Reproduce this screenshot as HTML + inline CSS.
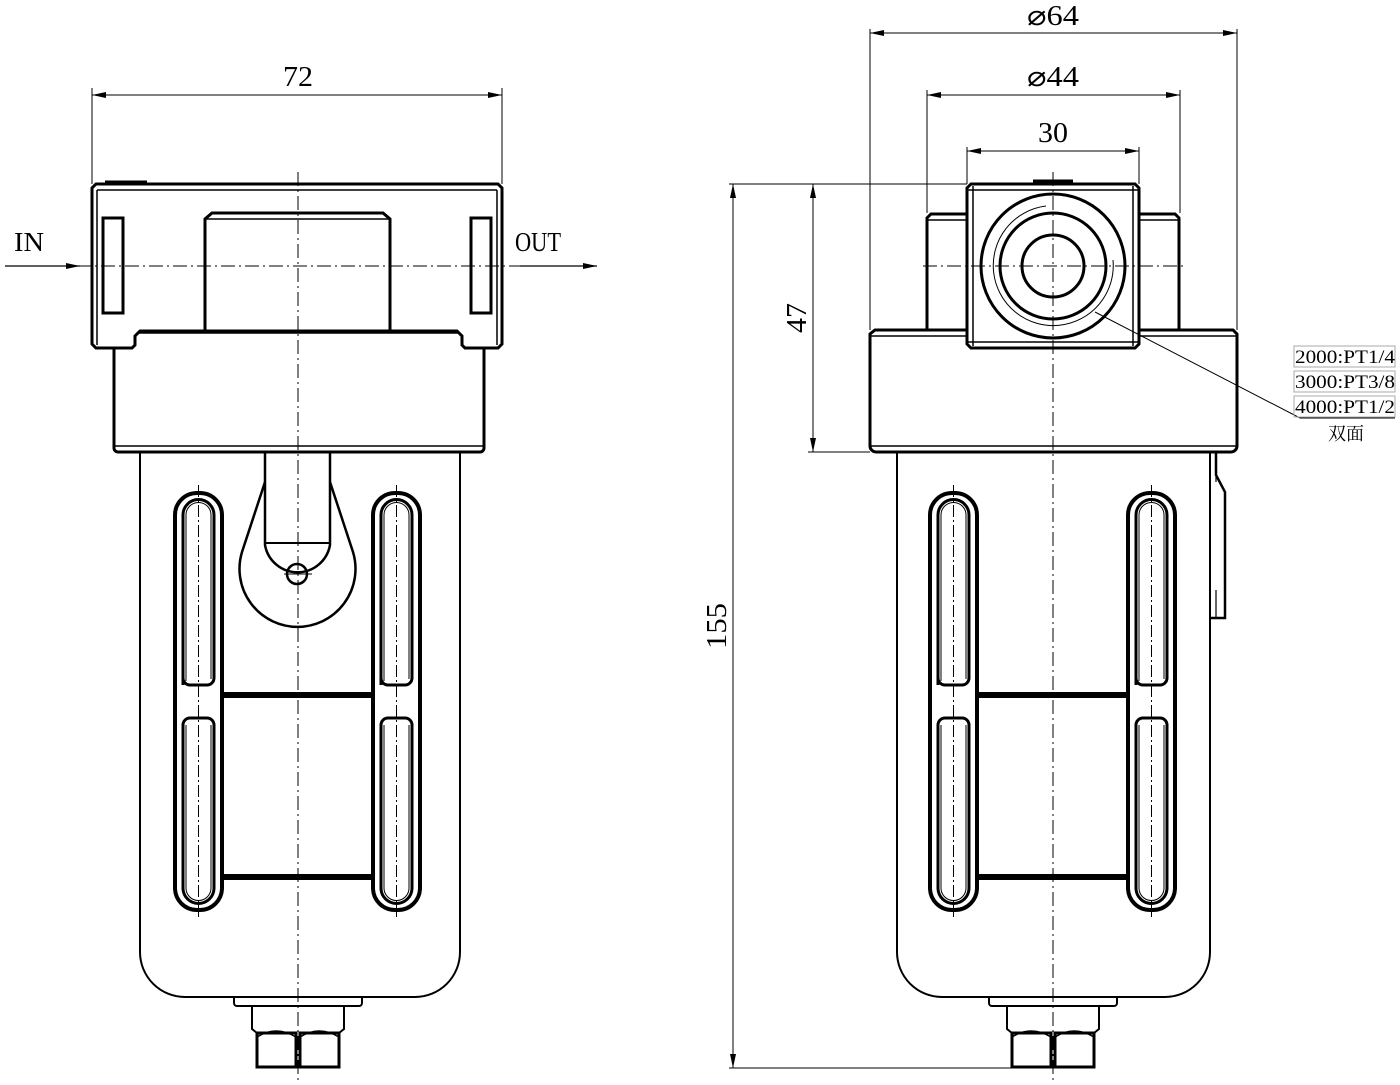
<!DOCTYPE html>
<html><head><meta charset="utf-8"><style>
html,body{margin:0;padding:0;background:#fff;}
svg{display:block;}
.t{font-family:"Liberation Serif","Noto Serif CJK SC",serif;fill:#000;}
</style></head><body>
<svg width="1400" height="1085" viewBox="0 0 1400 1085" xmlns="http://www.w3.org/2000/svg">
<defs>
<marker id="a" markerWidth="14" markerHeight="6" refX="14" refY="3" orient="auto-start-reverse" markerUnits="userSpaceOnUse"><path d="M0,0 L14,3 L0,6 Z" fill="#000"/></marker>
<g id="slot" fill="none" stroke="#000">
  <rect x="0" y="0" width="47" height="417" rx="22" stroke-width="4"/>
  <path d="M8,192 V22 a15.5,15.5 0 0 1 31,0 V185 a7,7 0 0 1 -7,7 H15 a7,7 0 0 1 -7,-7Z" stroke-width="3"/>
  <path d="M11,188 V22 a12.5,12.5 0 0 1 25,0 V186" stroke-width="1"/>
  <path d="M8,232 a7,7 0 0 1 7,-7 H32 a7,7 0 0 1 7,7 V395 a15.5,15.5 0 0 1 -31,0 Z" stroke-width="3"/>
  <path d="M11,232 V395 a12.5,12.5 0 0 0 25,0 V232" stroke-width="1"/>
  <line x1="23.5" y1="-8" x2="23.5" y2="425" stroke-width="1" stroke-dasharray="12,3,2,3"/>
</g>
<g id="bottom" fill="none" stroke="#000">
  <path d="M-64,0 V6 a3,3 0 0 0 3,3 H61 a3,3 0 0 0 3,-3 V0" stroke-width="2"/>
  <path d="M-46,9 V32 l5,4 M46,9 V32 l-5,4" stroke-width="2"/>
  <rect x="-41" y="36" width="39" height="34" stroke-width="3"/>
  <rect x="2" y="36" width="39" height="34" stroke-width="3"/>
  <path d="M-41,40 q19,-12 39,0 M2,40 q19,-12 39,0" stroke-width="1.5"/>
</g>
<g id="bowlslots">
  <use href="#slot" x="0" y="0"/>
  <use href="#slot" x="198" y="0"/>
  <line x1="47" y1="202" x2="198" y2="202" stroke="#000" stroke-width="6"/>
  <line x1="47" y1="384" x2="198" y2="384" stroke="#000" stroke-width="6"/>
</g>
</defs>

<g stroke="#000" fill="none">
<line x1="92" y1="88" x2="92" y2="184" stroke-width="1"/>
<line x1="502" y1="88" x2="502" y2="184" stroke-width="1"/>
<line x1="92" y1="95" x2="502" y2="95" stroke-width="1" marker-start="url(#a)" marker-end="url(#a)"/>
<path d="M96,184 H498 l4,4 V344 l-4,4 H465 l-3,-3 V336 l-5,-5 H140 l-5,5 V345 l-3,3 H96 l-4,-4 V188 Z" stroke-width="3"/>
<line x1="97" y1="190" x2="497" y2="190" stroke-width="1.5"/>
<line x1="97" y1="190" x2="97" y2="345" stroke-width="1.5"/>
<line x1="497" y1="190" x2="497" y2="345" stroke-width="1.5"/>
<line x1="105" y1="182" x2="147" y2="182" stroke-width="3"/>
<rect x="103" y="218" width="20" height="95" stroke-width="3"/>
<rect x="471" y="218" width="20" height="95" stroke-width="3"/>
<path d="M205,330 V219 l7,-6 H383 l7,6 V330" stroke-width="3"/>
<line x1="205" y1="219" x2="390" y2="219" stroke-width="1.5"/>
<line x1="138" y1="333" x2="459" y2="333" stroke-width="1.5"/>
<path d="M114,348 V448 a4,4 0 0 0 4,4 H480 a4,4 0 0 0 4,-4 V348" stroke-width="3"/>
<line x1="115" y1="446" x2="483" y2="446" stroke-width="1.5"/>
<path d="M140,452 V952 a45,45 0 0 0 45,45 H415 a45,45 0 0 0 45,-45 V452" stroke-width="2"/>
<path d="M265,452 V545 a33,33 0 0 0 65,0 V452" stroke-width="2.5"/>
<line x1="265" y1="543" x2="330" y2="543" stroke-width="2"/>
<path d="M265,482 L242,552 a58,58 0 1 0 111,0 L330,482" stroke-width="2.5"/>
<circle cx="297" cy="574" r="10" stroke-width="2.5"/>
<line x1="284" y1="574" x2="312" y2="574" stroke-width="1"/>
<use href="#bowlslots" x="175" y="493"/>
<use href="#bottom" x="298" y="997"/>
<line x1="298" y1="172" x2="298" y2="1082" stroke-width="1" stroke-dasharray="14,4,2,4"/>
<line x1="5" y1="266" x2="597" y2="266" stroke-width="1" stroke-dasharray="14,4,2,4"/>
<line x1="5" y1="266" x2="80" y2="266" stroke-width="1.2" marker-end="url(#a)"/>
<line x1="520" y1="266" x2="597" y2="266" stroke-width="1.2" marker-end="url(#a)"/>

<line x1="870" y1="29" x2="870" y2="330" stroke-width="1"/>
<line x1="1237" y1="29" x2="1237" y2="330" stroke-width="1"/>
<line x1="870" y1="33" x2="1237" y2="33" stroke-width="1" marker-start="url(#a)" marker-end="url(#a)"/>
<line x1="927" y1="90" x2="927" y2="213" stroke-width="1"/>
<line x1="1180" y1="90" x2="1180" y2="213" stroke-width="1"/>
<line x1="927" y1="95" x2="1180" y2="95" stroke-width="1" marker-start="url(#a)" marker-end="url(#a)"/>
<line x1="967" y1="147" x2="967" y2="184" stroke-width="1"/>
<line x1="1139" y1="147" x2="1139" y2="184" stroke-width="1"/>
<line x1="967" y1="151" x2="1139" y2="151" stroke-width="1" marker-start="url(#a)" marker-end="url(#a)"/>
<line x1="729" y1="184" x2="967" y2="184" stroke-width="1"/>
<line x1="808" y1="452" x2="870" y2="452" stroke-width="1"/>
<line x1="729" y1="1068" x2="1013" y2="1068" stroke-width="1"/>
<line x1="733" y1="184" x2="733" y2="1068" stroke-width="1" marker-start="url(#a)" marker-end="url(#a)"/>
<line x1="813" y1="184" x2="813" y2="452" stroke-width="1" marker-start="url(#a)" marker-end="url(#a)"/>
<path d="M927,330 V218 l4,-4 H967 M1139,214 H1175 l4,4 V330" stroke-width="3"/>
<line x1="928" y1="220" x2="966" y2="220" stroke-width="1.5"/>
<line x1="1140" y1="220" x2="1178" y2="220" stroke-width="1.5"/>
<path d="M875,330 H1233 l4,4 V446 a6,6 0 0 1 -6,6 H876 a6,6 0 0 1 -6,-6 V334 Z" stroke-width="3"/>
<line x1="871" y1="336" x2="1236" y2="336" stroke-width="1.5"/>
<line x1="871" y1="446" x2="1236" y2="446" stroke-width="1.5"/>
<path d="M971,184 H1135 l4,4 V344 l-4,4 H971 l-4,-4 V188 Z" stroke-width="3" fill="#fff"/>
<line x1="968" y1="190" x2="1138" y2="190" stroke-width="1.5"/>
<line x1="968" y1="342" x2="1138" y2="342" stroke-width="1.5"/>
<line x1="973" y1="186" x2="973" y2="346" stroke-width="1.5"/>
<line x1="1133" y1="186" x2="1133" y2="346" stroke-width="1.5"/>
<line x1="1033" y1="181" x2="1073" y2="181" stroke-width="3"/>
<circle cx="1053" cy="266" r="72" stroke-width="3"/>
<circle cx="1053" cy="266" r="53" stroke-width="3"/>
<circle cx="1053" cy="266" r="31" stroke-width="3"/>
<path d="M1046,206 A60,60 0 1 0 1113,260" stroke-width="1"/>
<polyline points="1095,312 1300,418 1395,418" stroke-width="1"/>
<path d="M897,452 V952 a45,45 0 0 0 45,45 H1165 a45,45 0 0 0 45,-45 V452" stroke-width="2"/>
<path d="M1210,452 H1216 V475 l9,17 V618 H1210" stroke-width="2.5"/>
<line x1="1216" y1="452" x2="1216" y2="482" stroke-width="1.2"/>
<line x1="1216" y1="590" x2="1216" y2="618" stroke-width="1.2"/>
<use href="#bowlslots" x="930" y="493"/>
<use href="#bottom" x="1053" y="997"/>
<line x1="1053" y1="172" x2="1053" y2="1082" stroke-width="1" stroke-dasharray="14,4,2,4"/>
<line x1="923" y1="266" x2="1186" y2="266" stroke-width="1" stroke-dasharray="14,4,2,4"/>
<rect x="1294" y="346" width="101" height="21" stroke="#aaa" stroke-width="1"/>
<rect x="1294" y="371" width="101" height="21" stroke="#aaa" stroke-width="1"/>
<rect x="1294" y="396" width="101" height="21" stroke="#aaa" stroke-width="1"/>
</g>

<g class="t">
<text x="298" y="86" font-size="28" text-anchor="middle" textLength="30" lengthAdjust="spacingAndGlyphs">72</text>
<text x="14" y="251" font-size="27" textLength="30" lengthAdjust="spacingAndGlyphs">IN</text>
<text x="515" y="251" font-size="27" textLength="46" lengthAdjust="spacingAndGlyphs">OUT</text>
<text x="1053" y="25" font-size="28" text-anchor="middle" textLength="52" lengthAdjust="spacingAndGlyphs">⌀64</text>
<text x="1053" y="86" font-size="28" text-anchor="middle" textLength="52" lengthAdjust="spacingAndGlyphs">⌀44</text>
<text x="1053" y="142" font-size="28" text-anchor="middle" textLength="30" lengthAdjust="spacingAndGlyphs">30</text>
<text transform="translate(806,318) rotate(-90)" font-size="28" text-anchor="middle" textLength="30" lengthAdjust="spacingAndGlyphs">47</text>
<text transform="translate(726,626) rotate(-90)" font-size="28" text-anchor="middle" textLength="46" lengthAdjust="spacingAndGlyphs">155</text>
<text x="1295" y="363" font-size="19" textLength="100" lengthAdjust="spacingAndGlyphs">2000:PT1/4</text>
<text x="1295" y="388" font-size="19" textLength="100" lengthAdjust="spacingAndGlyphs">3000:PT3/8</text>
<text x="1295" y="413" font-size="19" textLength="100" lengthAdjust="spacingAndGlyphs">4000:PT1/2</text>
<text x="1346" y="440" font-size="18" text-anchor="middle">双面</text>
</g>
</svg>
</body></html>
